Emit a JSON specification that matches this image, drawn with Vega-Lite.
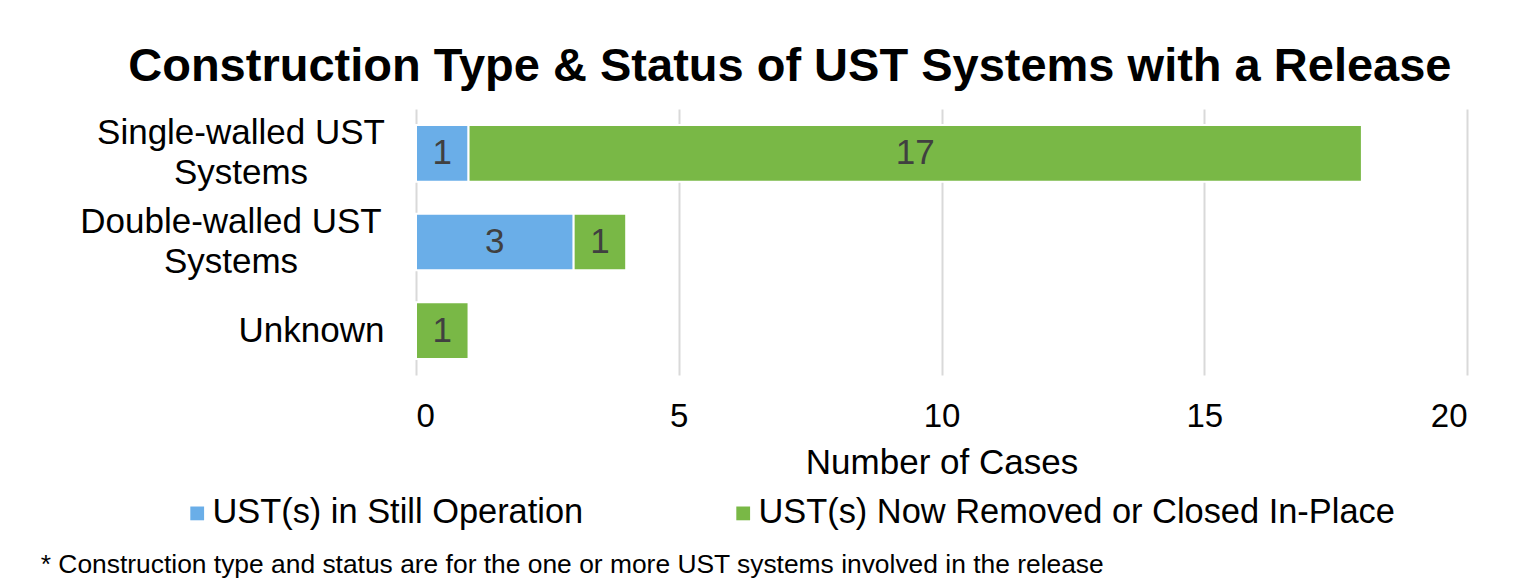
{
  "$schema": "https://vega.github.io/schema/vega-lite/v6.json",
  "background": "white",
  "padding": {"left": 40, "top": 43, "right": 5, "bottom": 5},
  "title": {
    "text": "Construction Type & Status of UST Systems with a Release",
    "font": "Liberation Sans",
    "fontSize": 47,
    "fontWeight": "bold",
    "color": "#000000",
    "anchor": "middle",
    "offset": 18,
    "dx": 36
  },
  "vconcat": [
    {
      "title": {
        "text": "* Construction type and status are for the one or more UST systems involved in the release",
        "orient": "bottom",
        "anchor": "start",
        "frame": "bounds",
        "font": "Liberation Sans",
        "fontSize": 26.4,
        "fontWeight": "normal",
        "color": "#000000",
        "offset": 22,
        "dx": -39
      },
      "width": 1051,
      "height": 266,
      "data": {
        "values": [
          {"type": "Single-walled UST Systems", "status": "UST(s) in Still Operation", "ord": 1, "count": 1},
          {"type": "Single-walled UST Systems", "status": "UST(s) Now Removed or Closed In-Place", "ord": 2, "count": 17},
          {"type": "Double-walled UST Systems", "status": "UST(s) in Still Operation", "ord": 1, "count": 3},
          {"type": "Double-walled UST Systems", "status": "UST(s) Now Removed or Closed In-Place", "ord": 2, "count": 1},
          {"type": "Unknown", "status": "UST(s) Now Removed or Closed In-Place", "ord": 2, "count": 1}
        ]
      },
      "encoding": {
        "y": {
          "field": "type",
          "type": "nominal",
          "sort": ["Single-walled UST Systems", "Double-walled UST Systems", "Unknown"],
          "scale": {"paddingInner": 0.36, "paddingOuter": 0.18},
          "axis": {
            "title": null,
            "domain": false,
            "ticks": false,
            "tickSize": 0,
            "grid": false,
            "labelFont": "Liberation Sans",
            "labelFontSize": 35,
            "labelColor": "#000000",
            "labelLimit": 0,
            "labelLineHeight": 40,
            "labelAlign": {"condition": {"test": "datum.value == 'Unknown'", "value": "right"}, "value": "center"},
            "labelPadding": {"condition": [
              {"test": "datum.value == 'Unknown'", "value": 32},
              {"test": "datum.value == 'Single-walled UST Systems'", "value": 175.5},
              {"test": "datum.value == 'Double-walled UST Systems'", "value": 185.5}
            ], "value": 32},
            "labelOffset": {"condition": {"test": "datum.value == 'Unknown'", "value": 0}, "value": -20},
            "labelExpr": "datum.value == 'Single-walled UST Systems' ? ['Single-walled UST', 'Systems'] : datum.value == 'Double-walled UST Systems' ? ['Double-walled UST', 'Systems'] : datum.value"
          }
        },
        "x": {
          "field": "count",
          "type": "quantitative",
          "stack": "zero",
          "scale": {"domain": [0, 20], "nice": false},
          "axis": {
            "title": "Number of Cases",
            "values": [0, 5, 10, 15, 20],
            "domain": false,
            "ticks": false,
            "tickSize": 0,
            "grid": true,
            "gridColor": "#d9d9d9",
            "gridWidth": 2,
            "labelFont": "Liberation Sans",
            "labelFontSize": 33,
            "labelColor": "#000000",
            "labelPadding": 25,
            "titleFont": "Liberation Sans",
            "titleFontSize": 35,
            "titleFontWeight": "normal",
            "titleColor": "#000000",
            "titlePadding": 12
          }
        },
        "order": {"field": "ord", "type": "quantitative"}
      },
      "layer": [
        {
          "mark": {"type": "bar", "stroke": "white", "strokeWidth": 2},
          "encoding": {
            "color": {
              "field": "status",
              "type": "nominal",
              "scale": {
                "domain": ["UST(s) in Still Operation", "UST(s) Now Removed or Closed In-Place"],
                "range": ["#6aaee8", "#79b846"]
              },
              "legend": {
                "title": null,
                "orient": "none",
                "legendX": -236,
                "legendY": 387,
                "direction": "horizontal",
                "labelFont": "Liberation Sans",
                "labelFontSize": 34.4,
                "labelColor": "#000000",
                "labelLimit": 0,
                "symbolType": "square",
                "symbolSize": 190,
                "symbolStrokeWidth": 0,
                "columnPadding": 142,
                "labelOffset": -2
              }
            }
          }
        },
        {
          "mark": {"type": "text", "font": "Liberation Sans", "fontSize": 35, "color": "#404040", "baseline": "middle", "align": "center"},
          "encoding": {
            "x": {"field": "count", "type": "quantitative", "stack": "zero", "bandPosition": 0.5},
            "text": {"field": "count", "type": "quantitative"}
          }
        }
      ]
    }
  ],
  "resolve": {"legend": {"color": "independent"}},
  "config": {"view": {"stroke": null}}
}
